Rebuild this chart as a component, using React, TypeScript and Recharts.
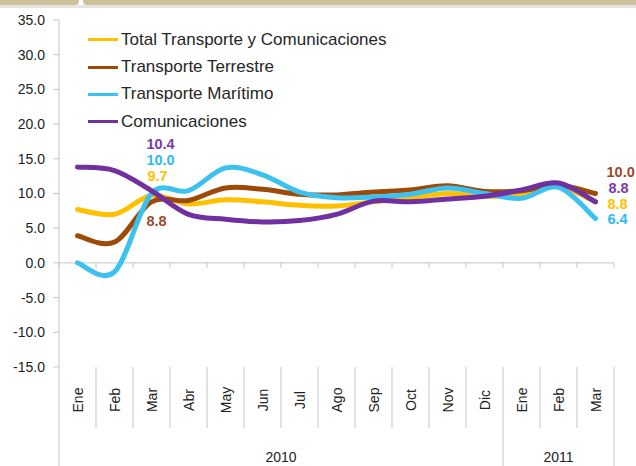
import React from 'react';
import { LineChart, Line, XAxis, YAxis, ReferenceLine, Legend } from 'recharts';

const months = ['Ene', 'Feb', 'Mar', 'Abr', 'May', 'Jun', 'Jul', 'Ago', 'Sep', 'Oct', 'Nov', 'Dic', 'Ene', 'Feb', 'Mar'];
const yearLabels = ['2010', '2011'];
const yearSpans = [12, 3];
const total = [7.7, 7.0, 9.7, 8.5, 9.1, 8.8, 8.3, 8.2, 8.8, 9.4, 10.0, 9.6, 9.8, 11.0, 8.8];
const terrestre = [3.9, 3.0, 8.8, 9.0, 10.8, 10.6, 9.9, 9.8, 10.2, 10.5, 11.1, 10.3, 10.4, 11.2, 10.0];
const maritimo = [0.0, -1.3, 10.0, 10.4, 13.7, 12.7, 10.2, 9.4, 9.5, 9.9, 10.8, 10.0, 9.3, 10.9, 6.4];
const comunicaciones = [13.8, 13.3, 10.4, 7.0, 6.3, 5.9, 6.1, 7.0, 8.9, 8.8, 9.2, 9.6, 10.5, 11.5, 8.8];
const yTicks = [-15, -10, -5, 0, 5, 10, 15, 20, 25, 30, 35];

const data = months.map((m, i) => ({
  month: m,
  total: total[i],
  terrestre: terrestre[i],
  maritimo: maritimo[i],
  comunicaciones: comunicaciones[i],
}));

const FONT = '"Liberation Sans", Arial, sans-serif';
const W = 636;
const H = 466;
const M = { top: 20, right: 22, left: 0, bottom: 0 };
const Y_W = 59;
const X_H = 99;
const PLOT_W = W - M.right - Y_W;
const BAND = PLOT_W / months.length;
const GRID = '#C6C6C6';

const series = [
  { key: 'total', name: 'Total Transporte y Comunicaciones', color: '#FFC000', labelColor: '#FFC000' },
  { key: 'terrestre', name: 'Transporte Terrestre', color: '#9C4A08', labelColor: '#9A4A2A' },
  { key: 'maritimo', name: 'Transporte Marítimo', color: '#3DC2F0', labelColor: '#2EBBEE' },
  { key: 'comunicaciones', name: 'Comunicaciones', color: '#7030A0', labelColor: '#7A3AA8' },
];

// label styling (offsets relative to the data point)
const labelOffsets: Record<string, Record<number, { dx: number; dy: number; anchor: string }>> = {
  total: { 2: { dx: 6, dy: -20, anchor: 'middle' }, 14: { dx: 12, dy: 2, anchor: 'start' } },
  terrestre: { 2: { dx: 5, dy: 19, anchor: 'middle' }, 14: { dx: 11, dy: -22, anchor: 'start' } },
  maritimo: { 2: { dx: 9, dy: -34, anchor: 'middle' }, 14: { dx: 12, dy: 1, anchor: 'start' } },
  comunicaciones: { 2: { dx: 9, dy: -47, anchor: 'middle' }, 14: { dx: 13, dy: -14, anchor: 'start' } },
};

const yearStarts: number[] = [];
yearSpans.reduce((acc, s) => {
  yearStarts.push(acc);
  return acc + s;
}, 0);

// Catmull-Rom style smoothing (like spreadsheet "smoothed line")
function smoothCurve(context: any) {
  let pts: number[][] = [];
  return {
    areaStart() {},
    areaEnd() {},
    lineStart() {
      pts = [];
    },
    point(x: number, y: number) {
      pts.push([+x, +y]);
    },
    lineEnd() {
      const n = pts.length;
      if (!n) return;
      context.moveTo(pts[0][0], pts[0][1]);
      if (n === 1) return;
      for (let i = 0; i < n - 1; i++) {
        const p0 = pts[i - 1] || pts[i];
        const p1 = pts[i];
        const p2 = pts[i + 1];
        const p3 = pts[i + 2] || pts[i + 1];
        const c1x = p1[0] + (p2[0] - p0[0]) / 6;
        const c1y = p1[1] + (p2[1] - p0[1]) / 6;
        const c2x = p2[0] - (p3[0] - p1[0]) / 6;
        const c2y = p2[1] - (p3[1] - p1[1]) / 6;
        context.bezierCurveTo(c1x, c1y, c2x, c2y, p2[0], p2[1]);
      }
    },
  };
}

function MonthTick(props: any) {
  const { x, y, payload } = props;
  const i: number = payload.index ?? props.index;
  const left = x - BAND / 2;
  const yi = yearStarts.indexOf(i);
  const isYearStart = yi >= 0;
  const isLast = i === months.length - 1;
  return (
    <g>
      <line x1={left} y1={y} x2={left} y2={isYearStart ? H : y + 61} stroke={GRID} strokeWidth={1} />
      {isLast && <line x1={x + BAND / 2} y1={y} x2={x + BAND / 2} y2={H} stroke={GRID} strokeWidth={1} />}
      <text
        x={x}
        y={y + 33}
        transform={`rotate(-90, ${x}, ${y + 33})`}
        textAnchor="middle"
        dominantBaseline="central"
        fontSize={14}
        fontFamily={FONT}
        fill="#222"
      >
        {months[i]}
      </text>
      {isYearStart && (
        <text
          x={left + (yearSpans[yi] * BAND) / 2}
          y={y + 95}
          textAnchor="middle"
          fontSize={14}
          fontFamily={FONT}
          fill="#222"
        >
          {yearLabels[yi]}
        </text>
      )}
    </g>
  );
}

function ZeroTicks(props: any) {
  const vb = props.viewBox || {};
  const n = months.length;
  const w = vb.width || 0;
  const ticks = [];
  for (let k = 0; k <= n; k++) {
    const xx = vb.x + (k * w) / n;
    ticks.push(<line key={k} x1={xx} y1={vb.y} x2={xx} y2={vb.y + 5} stroke={GRID} strokeWidth={1} />);
  }
  return <g>{ticks}</g>;
}

function makeLabel(key: string, color: string) {
  return (p: any) => {
    const cfg = labelOffsets[key][p.index];
    if (!cfg || p.x == null || p.y == null) return <g key={`${key}-l-${p.index}`} />;
    return (
      <text
        key={`${key}-l-${p.index}`}
        x={p.x + cfg.dx}
        y={p.y + cfg.dy}
        textAnchor={cfg.anchor as any}
        dominantBaseline="central"
        fontSize={14.5}
        fontWeight="bold"
        fontFamily={FONT}
        fill={color}
      >
        {Number(p.value).toFixed(1)}
      </text>
    );
  };
}

function LegendContent() {
  return (
    <div style={{ fontFamily: FONT }}>
      {series.map((s) => (
        <div key={s.key} style={{ display: 'flex', alignItems: 'center', height: 27.4 }}>
          <div style={{ width: 30, height: 3, background: s.color }} />
          <span style={{ marginLeft: 3, fontSize: 17, color: '#262626', whiteSpace: 'nowrap', lineHeight: '20px' }}>
            {s.name}
          </span>
        </div>
      ))}
    </div>
  );
}

export default function App() {
  return (
    <div style={{ position: 'absolute', left: 0, top: 0, width: W, height: H, background: '#fff', overflow: 'hidden' }}>
      <svg width={W} height={10} style={{ position: 'absolute', left: 0, top: 0 }}>
        <rect x={0} y={5} width={W} height={3} fill="#E4E4E4" />
        <rect x={-10} y={-10} width={89} height={15} rx={4} fill="#CDC19C" />
        <rect x={83} y={-10} width={W} height={15} rx={4} fill="#CDC19C" />
      </svg>
      <LineChart width={W} height={H} data={data} margin={M} style={{ position: 'absolute', left: 0, top: 0 }}>
        <YAxis
          type="number"
          domain={[-15, 35]}
          ticks={yTicks}
          interval={0}
          width={Y_W}
          tickFormatter={(v: number) => v.toFixed(1)}
          axisLine={{ stroke: GRID }}
          tickLine={{ stroke: GRID }}
          tickSize={6}
          tickMargin={8}
          tick={{ fontSize: 14, fontFamily: FONT, fill: '#222' }}
        />
        <XAxis
          dataKey="month"
          height={X_H}
          axisLine={false}
          tickLine={false}
          tickSize={0}
          tickMargin={0}
          interval={0}
          padding={{ left: BAND / 2, right: BAND / 2 }}
          tick={<MonthTick />}
        />
        <ReferenceLine y={0} stroke={GRID} strokeWidth={1} label={<ZeroTicks />} />
        <Legend
          layout="vertical"
          align="center"
          verticalAlign="middle"
          content={<LegendContent />}
          wrapperStyle={{ position: 'absolute', left: 88, top: 26, width: 320 }}
        />
        {series.map((s) => (
          <Line
            key={s.key}
            type={smoothCurve as any}
            dataKey={s.key}
            name={s.name}
            stroke={s.color}
            strokeWidth={5}
            strokeLinecap="round"
            dot={false}
            activeDot={false}
            isAnimationActive={false}
            label={makeLabel(s.key, s.labelColor)}
          />
        ))}
      </LineChart>
    </div>
  );
}
